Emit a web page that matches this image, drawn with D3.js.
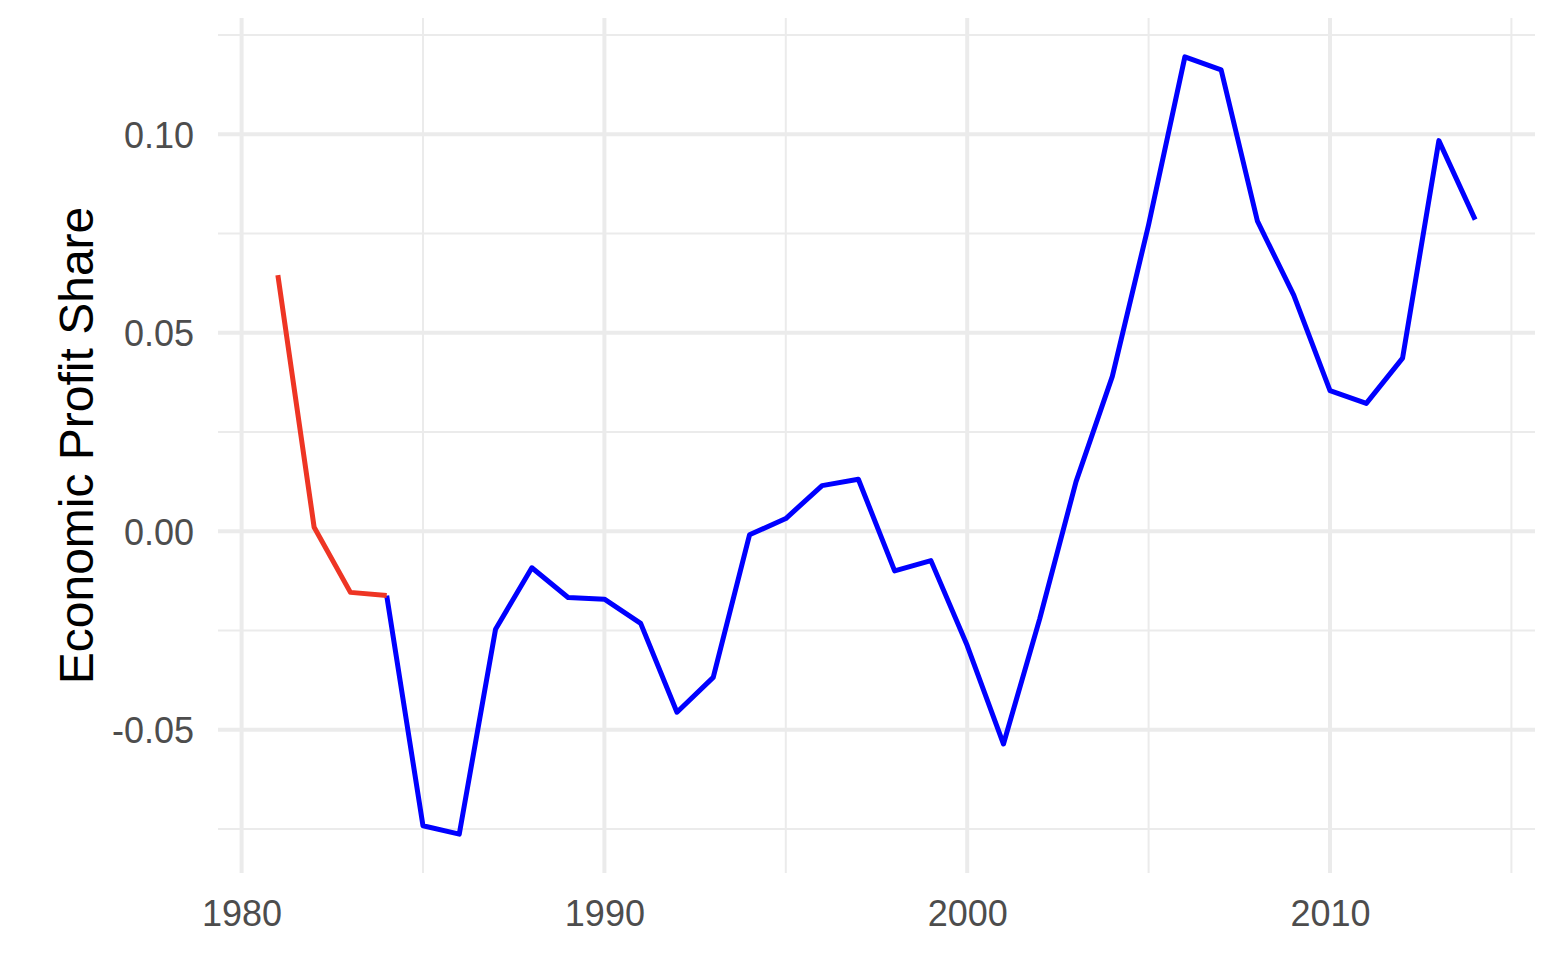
<!DOCTYPE html>
<html>
<head>
<meta charset="utf-8">
<script src="https://cdn.jsdelivr.net/npm/d3@7"></script>
<style>
  html, body { margin: 0; padding: 0; background: #fff; }
  svg { display: block; font-family: "Liberation Sans", Arial, sans-serif; }
</style>
</head>
<body>
<svg id="chart"></svg>
<script>
const years = [1981, 1982, 1983, 1984, 1985, 1986, 1987, 1988, 1989, 1990,
    1991, 1992, 1993, 1994, 1995, 1996, 1997, 1998, 1999, 2000,
    2001, 2002, 2003, 2004, 2005, 2006, 2007, 2008, 2009, 2010,
    2011, 2012, 2013, 2014];
const share = [0.0645, 0.0010, -0.0154, -0.0162, -0.0742, -0.0763, -0.0247, -0.0092, -0.0167, -0.0171,
    -0.0232, -0.0456, -0.0368, -0.0009, 0.0032, 0.0115, 0.0131, -0.0100, -0.0074, -0.0288,
    -0.0536, -0.0220, 0.0125, 0.0390, 0.0772, 0.1195, 0.1162, 0.0781, 0.0595, 0.0354,
    0.0322, 0.0436, 0.0984, 0.0785];
const splitYear = 1984;
const xMajor = [1980, 1990, 2000, 2010];
const xMinor = [1985, 1995, 2005, 2015];
const yMajor = [-0.05, 0, 0.05, 0.10];
const yMinor = [-0.075, -0.025, 0.025, 0.075, 0.125];
const yTitle = 'Economic Profit Share';

const width = 1566, height = 964;
const panel = { left: 218, right: 1535, top: 18, bottom: 873 };

const data = years.map((year, i) => ({ year, value: share[i] }));
const early = data.filter(d => d.year <= splitYear);
const late = data.filter(d => d.year >= splitYear);

// ggplot style 5% expansion
const expand = ([a, b]) => [a - (b - a) * 0.05, b + (b - a) * 0.05];

const xScale = d3.scaleLinear()
    .domain(expand(d3.extent(years)))
    .range([panel.left, panel.right]);
const yScale = d3.scaleLinear()
    .domain(expand(d3.extent(share)))
    .range([panel.bottom, panel.top]);

const svg = d3.select('#chart').attr('width', width).attr('height', height);

const grid = svg.append('g');

grid.selectAll('.y-minor').data(yMinor).join('line')
    .attr('x1', panel.left).attr('x2', panel.right)
    .attr('y1', d => yScale(d)).attr('y2', d => yScale(d))
    .attr('stroke', '#ebebeb').attr('stroke-width', 2);

grid.selectAll('.x-minor').data(xMinor).join('line')
    .attr('y1', panel.top).attr('y2', panel.bottom)
    .attr('x1', d => xScale(d)).attr('x2', d => xScale(d))
    .attr('stroke', '#ebebeb').attr('stroke-width', 2);

grid.selectAll('.y-major').data(yMajor).join('line')
    .attr('x1', panel.left).attr('x2', panel.right)
    .attr('y1', d => yScale(d)).attr('y2', d => yScale(d))
    .attr('stroke', '#ebebeb').attr('stroke-width', 4);

grid.selectAll('.x-major').data(xMajor).join('line')
    .attr('y1', panel.top).attr('y2', panel.bottom)
    .attr('x1', d => xScale(d)).attr('x2', d => xScale(d))
    .attr('stroke', '#ebebeb').attr('stroke-width', 4);

const line = d3.line().x(d => xScale(d.year)).y(d => yScale(d.value));

svg.append('path')
    .datum(late)
    .attr('fill', 'none')
    .attr('stroke', '#0000ff')
    .attr('stroke-width', 5)
    .attr('stroke-linejoin', 'round')
    .attr('d', line);

svg.append('path')
    .datum(early)
    .attr('fill', 'none')
    .attr('stroke', '#ee3524')
    .attr('stroke-width', 5)
    .attr('stroke-linejoin', 'round')
    .attr('d', line);

// axes: labels only, like theme_minimal
const xAxis = svg.append('g')
    .attr('transform', `translate(0,${panel.bottom})`)
    .call(d3.axisBottom(xScale).tickValues(xMajor).tickFormat(d3.format('d')).tickSize(0).tickPadding(27));
const yAxis = svg.append('g')
    .attr('transform', `translate(${panel.left},0)`)
    .call(d3.axisLeft(yScale).tickValues(yMajor).tickFormat(d => d < 0 ? '-' + d3.format('.2f')(-d) : d3.format('.2f')(d)).tickSize(0).tickPadding(24));

[xAxis, yAxis].forEach(axis => {
    axis.select('.domain').remove();
    axis.selectAll('text')
        .attr('fill', '#4d4d4d')
        .style('font-size', '36px')
        .style('font-family', '"Liberation Sans", Arial, sans-serif');
});
yAxis.selectAll('text').attr('dy', '0.36em');

svg.append('text')
    .attr('transform', `translate(93,${(panel.top + panel.bottom) / 2}) rotate(-90)`)
    .attr('text-anchor', 'middle')
    .attr('fill', '#000')
    .style('font-size', '48px')
    .text(yTitle);
</script>
</body>
</html>
